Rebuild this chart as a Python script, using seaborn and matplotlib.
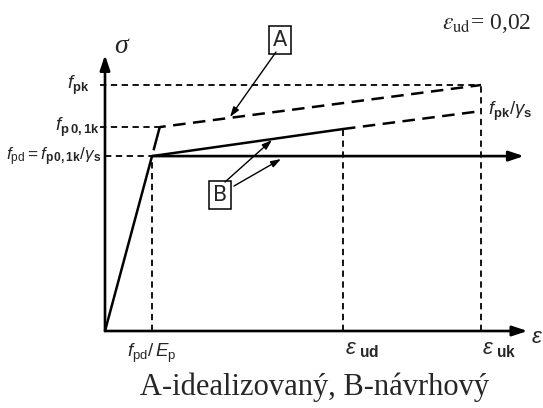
import matplotlib
matplotlib.use("Agg")
import matplotlib.pyplot as plt
import seaborn as sns
import pandas as pd

# ---- data (strain, normalised stress) ----
eps_pd = 0.00395      # f_pd / E_p
eps_p01k = 0.0046
eps_ud = 0.020
eps_uk = 0.0316
eps_axis_end = 0.0355
sig_axis_end = 1.122

f_pd = 0.711
f_p01k = 0.829
f_pk = 1.000
f_pk_gs = 0.894
f_B_ud = 0.821

B_elastic_eps = [0.0, eps_pd]
B_elastic_sig = [0.0, f_pd]
B_incl_eps = [eps_pd, eps_ud]
B_incl_sig = [f_pd, f_B_ud]
B_incl_ext_eps = [eps_ud, eps_uk]
B_incl_ext_sig = [f_B_ud, f_pk_gs]
A_el_eps = [eps_pd, eps_p01k]
A_el_sig = [f_pd, f_p01k]
A_hard_eps = [eps_p01k, eps_uk]
A_hard_sig = [f_p01k, f_pk]

sns.set_style("white")
plt.rcParams['mathtext.fontset'] = 'custom'
plt.rcParams['mathtext.rm'] = 'Liberation Sans'
plt.rcParams['mathtext.it'] = 'Liberation Sans:italic'
plt.rcParams['mathtext.bf'] = 'Liberation Sans:bold'

fig = plt.figure(figsize=(5.43, 4.08), dpi=100)
ax = fig.add_axes([0, 0, 1, 1])
sx = 11900.0
sy = 246.0
ox, oy = 105.0, 331.0
ax.set_xlim(-ox / sx, (543 - ox) / sx)
ax.set_ylim((oy - 408) / sy, oy / sy)
ax.axis("off")

def P(px, py):
    return ((px - ox) / sx, (oy - py) / sy)

def seg(x, y, **kw):
    sns.lineplot(x=x, y=y, ax=ax, sort=False, estimator=None, legend=False, **kw)

fine = dict(color="black", lw=1.3, linestyle=(0, (3.5, 2.5)))
# reference dashed lines
seg([-0.0004, eps_uk], [f_pk, f_pk], **fine)
seg([-0.0004, eps_p01k], [f_p01k, f_p01k], **fine)
seg([0, eps_pd], [f_pd, f_pd], **fine)
seg([eps_pd, eps_pd], [0, f_pd], **fine)
seg([eps_ud, eps_ud], [0, f_B_ud], **fine)
seg([eps_uk, eps_uk], [0, f_pk], **fine)

# curves
seg(B_elastic_eps, B_elastic_sig, color="black", lw=1.8)
seg(B_incl_eps, B_incl_sig, color="black", lw=1.8)
seg(B_incl_ext_eps, B_incl_ext_sig, color="black", lw=1.8, linestyle=(0, (5, 3)))
seg(A_el_eps, A_el_sig, color="black", lw=1.8, linestyle=(12, (12, 2.4)))
seg(A_hard_eps, A_hard_sig, color="black", lw=1.8, linestyle=(2.6, (5, 3)))

# axes arrows and horizontal B branch
arr = dict(arrowstyle="-|>,head_length=0.9,head_width=0.3", color="black", lw=1.9,
           shrinkA=0, shrinkB=0)
ax.annotate("", xy=(eps_axis_end, 0), xytext=(0, 0), arrowprops=arr)
ax.annotate("", xy=(0, sig_axis_end), xytext=(0, 0), arrowprops=arr)
ax.annotate("", xy=(0.0352, f_pd), xytext=(eps_pd, f_pd), arrowprops=arr)

# labels
fs = 13.5
ax.text(*P(89, 85), r"$\mathit{f}_{\mathbf{pk}}$", ha="right", va="center", fontsize=fs)
ax.text(*P(100, 127), r"$\mathit{f}_{\mathbf{p\,0,1k}}$", ha="right", va="center", fontsize=fs)
ax.text(*P(101, 157), r"$\mathit{f}_{\mathrm{pd}}\mathrm{=}\mathit{f}_{\mathbf{p\,0,1k}}/\mathit{\gamma}_{\mathbf{s}}$",
        ha="right", va="center", fontsize=12.3)
ax.text(*P(488, 111), r"$\mathit{f}_{\mathbf{pk}}/\mathit{\gamma}_{\mathbf{s}}$", ha="left", va="center", fontsize=fs)
ax.text(*P(152, 353), r"$\mathit{f}_{\mathrm{pd}}/\,\mathit{E}_{\mathrm{p}}$", ha="center", va="center", fontsize=fs)
ax.text(*P(345, 350), r"$\mathit{\varepsilon}_{\mathbf{\ ud}}$", ha="left", va="center", fontsize=16)
ax.text(*P(482, 350), r"$\mathit{\varepsilon}_{\mathbf{\ uk}}$", ha="left", va="center", fontsize=16)
ax.text(*P(531, 337), r"$\mathit{\varepsilon}$", ha="left", va="center", fontsize=16)
ax.text(*P(121, 47), "σ", ha="center", va="center", fontsize=20,
        family="Liberation Serif", style="italic")
ax.text(*P(487, 24), r"$\varepsilon_{\mathrm{ud}}$= 0,02", ha="center", va="center",
        fontsize=17, family="Liberation Serif", math_fontfamily="stix")
ax.text(*P(315, 387), "A-idealizovaný, B-návrhový", ha="center", va="center",
        fontsize=22, family="Liberation Serif")

box = dict(boxstyle="square,pad=0.2", fc="white", ec="black", lw=1.1)
ax.text(*P(280, 40), "A", ha="center", va="center", fontsize=15, bbox=box)
ax.text(*P(220, 195), "B", ha="center", va="center", fontsize=15, bbox=box)

thin = dict(arrowstyle="-|>,head_length=0.6,head_width=0.2", color="black", lw=1.0,
            shrinkA=0, shrinkB=0)
ax.annotate("", xy=P(230, 117), xytext=P(276, 52), arrowprops=thin)
ax.annotate("", xy=P(272, 140), xytext=P(225, 182), arrowprops=thin)
ax.annotate("", xy=P(281, 159), xytext=P(234, 186), arrowprops=thin)

fig.savefig("out.png", dpi=100)
